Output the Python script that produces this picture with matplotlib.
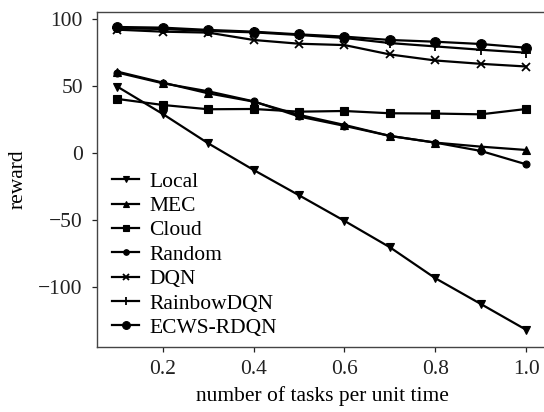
import matplotlib
matplotlib.use("Agg")
import matplotlib.pyplot as plt

plt.rcParams['font.family'] = ['Liberation Serif', 'DejaVu Serif']

x = [0.1, 0.2, 0.3, 0.4, 0.5, 0.6, 0.7, 0.8, 0.9, 1.0]
local = [49.5, 29.1, 7.2, -12.7, -31.6, -50.7, -70.4, -93.5, -112.7, -132.0]
mec = [60.7, 52.5, 44.5, 38.3, 28.4, 20.9, 12.7, 7.7, 4.7, 2.2]
cloud = [40.3, 35.8, 32.6, 32.8, 30.8, 31.3, 29.6, 29.4, 28.8, 32.8]
random_ = [60.0, 52.0, 46.0, 38.5, 27.2, 20.2, 12.7, 7.7, 1.5, -8.5]
dqn = [92.0, 90.5, 89.8, 84.3, 81.5, 80.5, 73.5, 69.0, 66.5, 64.5]
rainbow = [93.0, 92.5, 91.0, 90.0, 88.0, 85.8, 82.0, 79.5, 77.0, 74.8]
ecws = [94.0, 93.5, 91.8, 90.5, 88.5, 86.8, 84.3, 83.0, 81.3, 78.5]

series = [
    ("Local", local, "v", 6),
    ("MEC", mec, "^", 6),
    ("Cloud", cloud, "s", 6),
    ("Random", random_, "o", 5),
    ("DQN", dqn, "x", 6),
    ("RainbowDQN", rainbow, "+", 7),
    ("ECWS-RDQN", ecws, "o", 7),
]

fig = plt.figure(figsize=(5.44, 4.12), dpi=100)
W, H = 544, 412
left, right, top, bottom = 97.3, 548, 11.7, 346.7
ax = fig.add_axes([left / W, (H - bottom) / H, (right - left) / W, (bottom - top) / H])

for name, vals, mk, ms in series:
    ax.plot(x, vals, color='black', lw=1.6, marker=mk, markersize=ms,
            markeredgewidth=1.3 if mk in ('x', '+') else 0.8, label=name)

ax.set_xlim(0.056, 1.048)
ax.set_ylim(-144.6, 105.4)
ax.set_xticks([0.2, 0.4, 0.6, 0.8, 1.0])
ax.set_xticklabels(["0.2", "0.4", "0.6", "0.8", "1.0"])
ax.set_yticks([100, 50, 0, -50, -100])
ax.set_yticklabels(["100", "50", "0", "\u2212" + "50", "\u2212" + "100"])
ax.tick_params(direction='out', length=3.4, width=0.9, labelsize=15.5, colors='#222222')
ax.tick_params(axis='y', pad=7)
ax.tick_params(axis='x', pad=6)
ax.tick_params(top=False, right=False)
for sp in ax.spines.values():
    sp.set_color('#444444')
    sp.set_linewidth(1.0)
ax.spines['right'].set_visible(False)

ax.set_xlabel("number of tasks per unit time", fontsize=15.5, labelpad=5)
ax.set_ylabel("reward", fontsize=15.5, labelpad=8)

leg = ax.legend(loc='lower left', bbox_to_anchor=(0.0, -0.019), frameon=False,
                fontsize=15.5, handlelength=1.25, handletextpad=0.47,
                labelspacing=0.2, borderaxespad=0.3, markerscale=0.8)

fig.savefig("out.png", dpi=100)
